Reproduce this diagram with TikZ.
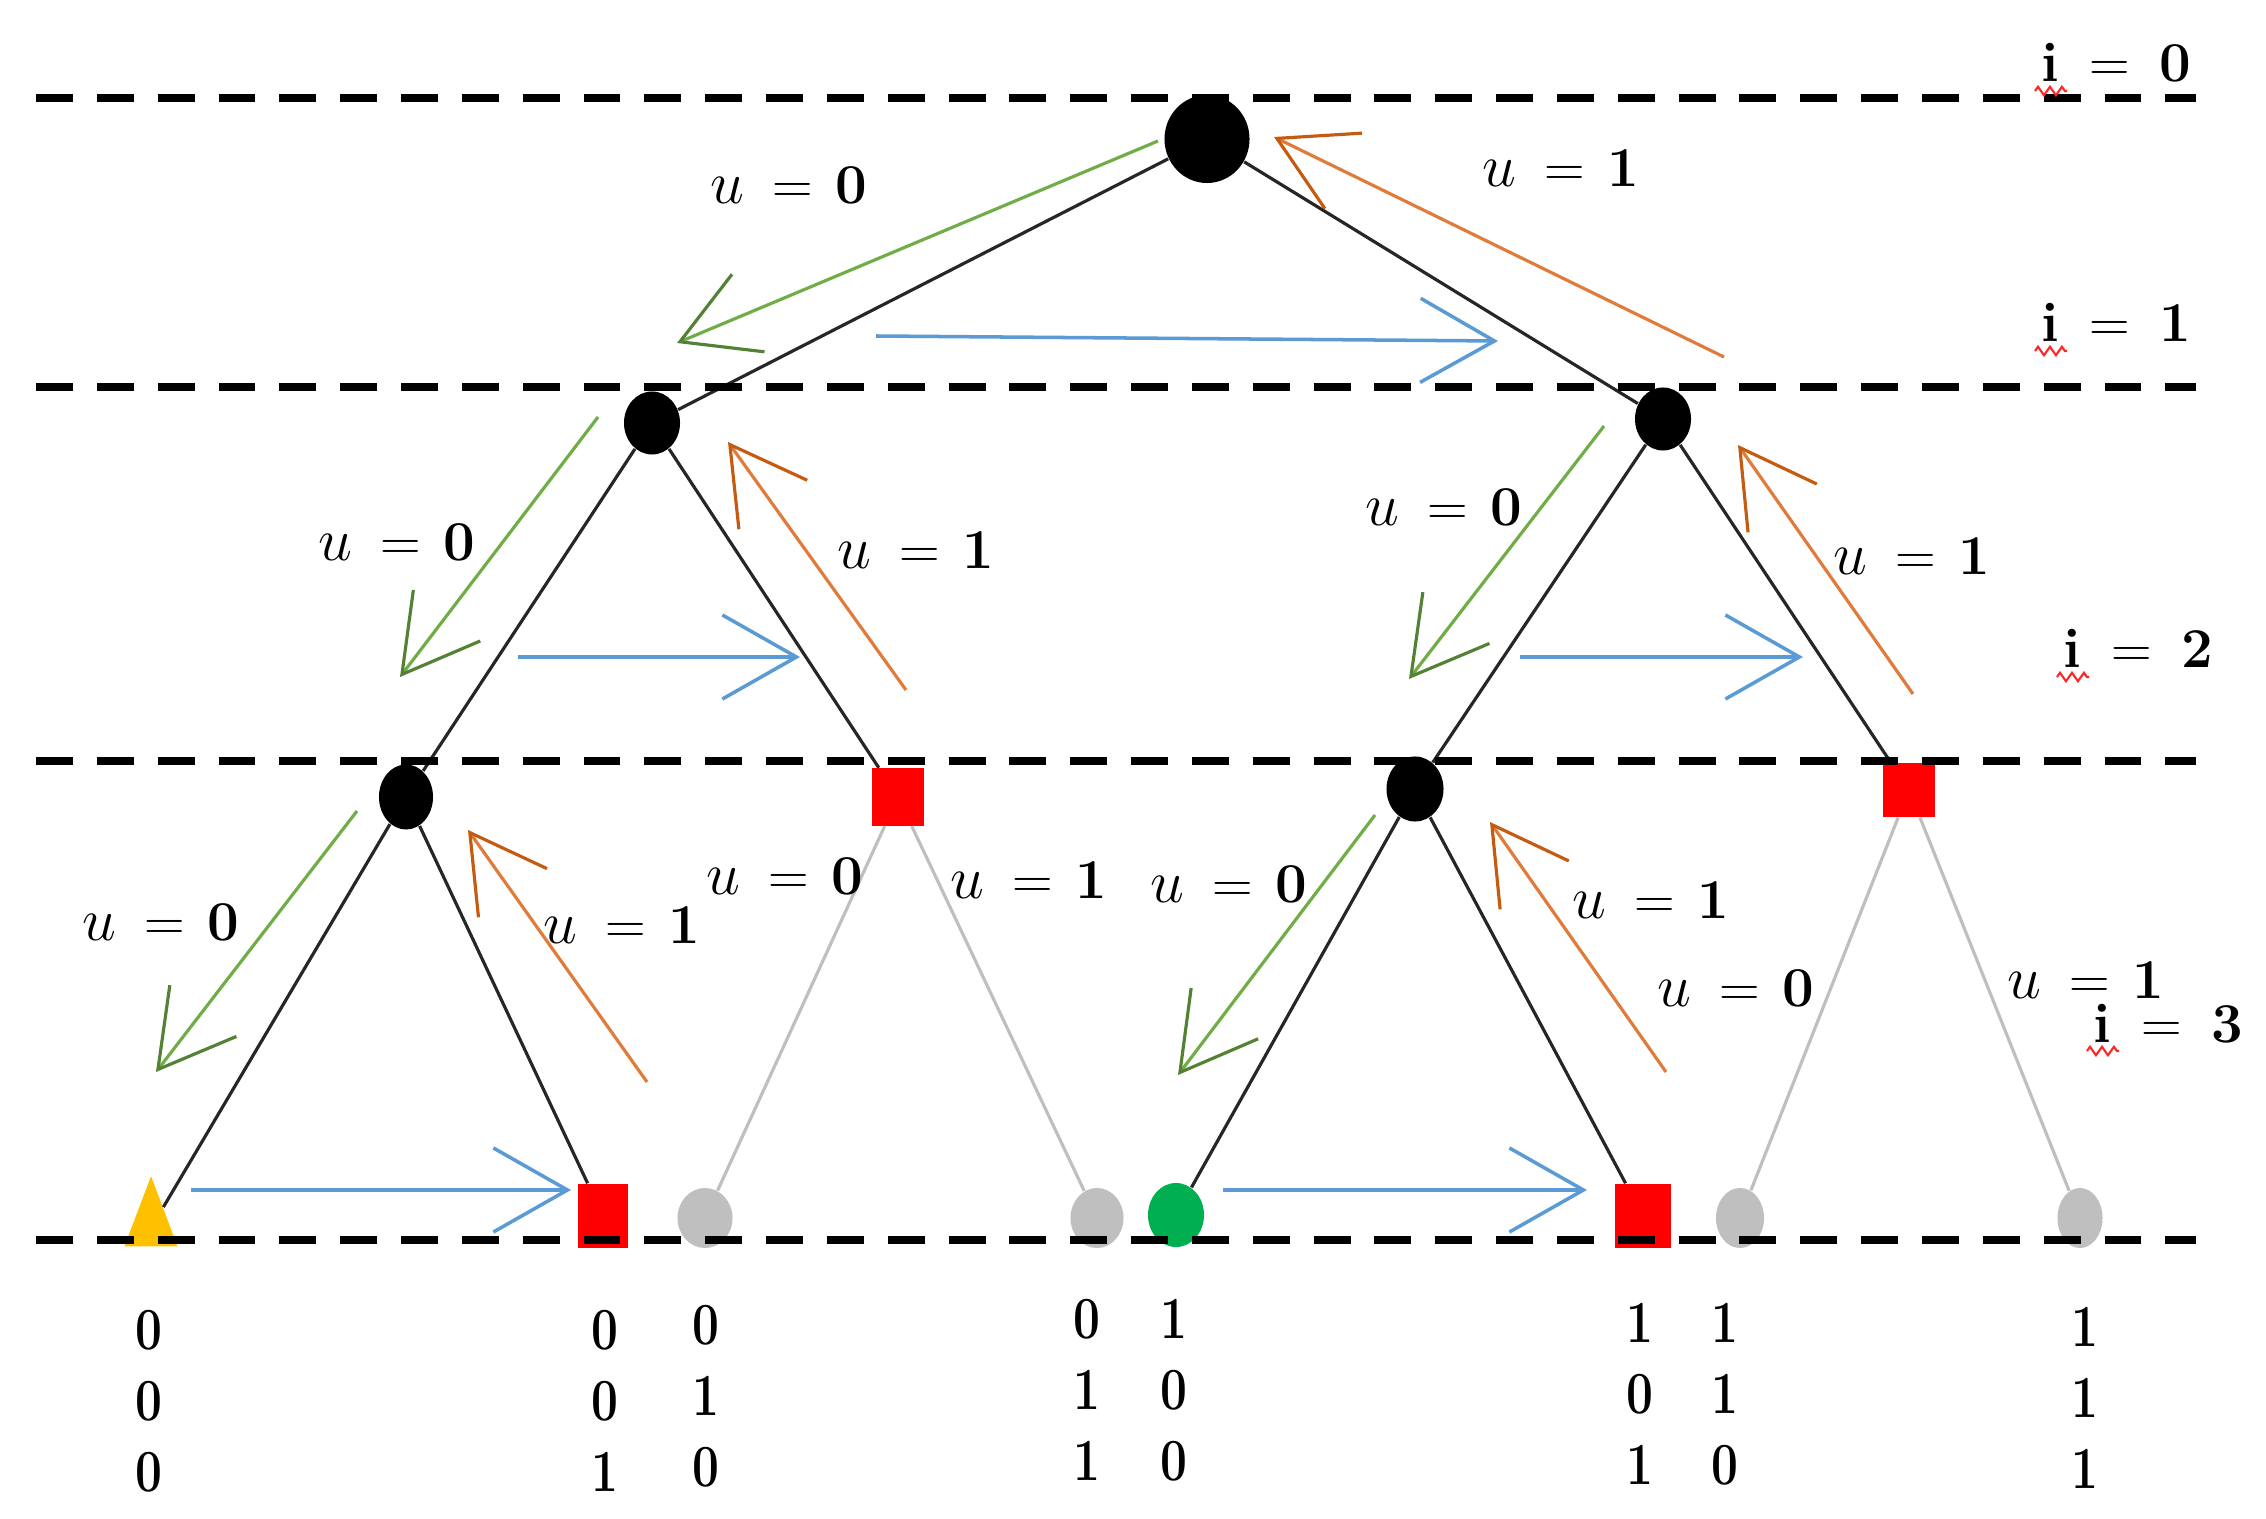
\documentclass[tikz,border=0pt]{standalone}
\usepackage{graphicx}
\usetikzlibrary{arrows.meta,shapes.geometric,decorations.pathmorphing,calc}
\definecolor{gold}{HTML}{FFC000}
\definecolor{gshaft}{HTML}{70AD47}
\definecolor{ghead}{HTML}{548235}
\definecolor{oshaft}{HTML}{E07B39}
\definecolor{ohead}{HTML}{C55A11}
\definecolor{bline}{HTML}{5B9BD5}
\definecolor{lgray}{HTML}{BFBFBF}
\definecolor{dgreen}{HTML}{00B050}
\newcommand\ulab[1]{$u$\hspace{0.28cm}=\hspace{0.22cm}\textbf{#1}}
\newcommand\ilab[1]{\textbf{i}\hspace{0.3cm}=\hspace{0.3cm}\textbf{#1}}
\newcommand\cdig[1]{\scalebox{0.8}[1]{\textbf{#1}}}
\newcommand\bcol[3]{\cdig{#1}\\\cdig{#2}\\\cdig{#3}}
\begin{document}
\begin{tikzpicture}[x=0.01cm,y=-0.01cm,
  lvline/.style={line width=2.2pt, dash pattern=on 10.5pt off 6.8pt},
  tedge/.style={line width=0.9pt, black!85},
  gedge/.style={line width=0.9pt, lgray},
  bnode/.style={ellipse, fill=black, inner sep=0},
  rsq/.style={rectangle, fill=red, inner sep=0},
  gnode/.style={ellipse, fill=lgray, inner sep=0},
  lab/.style={font=\fontsize{16}{19}\selectfont, inner sep=0},
  dig/.style={font=\fontsize{17}{20.2}\selectfont, align=center, inner sep=0},
  garr/.style={gshaft, line width=0.9pt, -{Straight Barb[length=0.74cm,width=0.84cm,color=ghead]}},
  oarr/.style={oshaft, line width=0.9pt, -{Straight Barb[length=0.74cm,width=0.84cm,color=ohead]}},
  barr/.style={bline, line width=1pt, -{Straight Barb[length=0.74cm,width=0.84cm]}},
  squig/.style={red!85, line width=0.6pt, decorate, decoration={zigzag, amplitude=1.2pt, segment length=3.4pt}}
]
\fill[white] (0,0) rectangle (2266,1519);
\useasboundingbox (0,0) rectangle (2266,1519);

% tree nodes
\node[bnode, minimum width=0.85cm, minimum height=0.88cm] (r) at (1207,139) {};
\node[bnode, minimum width=0.56cm, minimum height=0.63cm] (a) at (652,423) {};
\node[bnode, minimum width=0.56cm, minimum height=0.63cm] (b) at (1663,419) {};
\node[bnode, minimum width=0.54cm, minimum height=0.65cm] (aa) at (406,797) {};
\node[rsq, minimum width=0.52cm, minimum height=0.57cm] (ab) at (898,797) {};
\node[bnode, minimum width=0.57cm, minimum height=0.65cm] (ba) at (1415,789) {};
\node[rsq, minimum width=0.52cm, minimum height=0.54cm] (bb) at (1909,790) {};

% leaves
\node[isosceles triangle, isosceles triangle stretches, shape border rotate=90, fill=gold, inner sep=0,
      minimum width=0.53cm, minimum height=0.70cm, anchor=lower side] (l0) at (151,1247) {};
\node[rsq, minimum width=0.49cm, minimum height=0.64cm] (l1) at (603,1216) {};
\node[gnode, minimum width=0.55cm, minimum height=0.60cm] (l2) at (705,1218) {};
\node[gnode, minimum width=0.53cm, minimum height=0.60cm] (l3) at (1097,1218) {};
\node[ellipse, fill=dgreen, inner sep=0, minimum width=0.56cm, minimum height=0.64cm] (l4) at (1176,1215) {};
\node[rsq, minimum width=0.56cm, minimum height=0.64cm] (l5) at (1643,1216) {};
\node[gnode, minimum width=0.48cm, minimum height=0.60cm] (l6) at (1740,1218) {};
\node[gnode, minimum width=0.45cm, minimum height=0.60cm] (l7) at (2080,1218) {};

% tree edges
\draw[tedge] (r) -- (a);
\draw[tedge] (r) -- (b);
\draw[tedge] (a) -- (aa);
\draw[tedge] (a) -- (ab);
\draw[tedge] (b) -- (ba);
\draw[tedge] (b) -- (bb);
\draw[tedge] (aa) -- (l0);
\draw[tedge] (aa) -- (l1);
\draw[gedge] (ab) -- (l2);
\draw[gedge] (ab) -- (l3);
\draw[tedge] (ba) -- (l4);
\draw[tedge] (ba) -- (l5);
\draw[gedge] (bb) -- (l6);
\draw[gedge] (bb) -- (l7);

% arrow end points
\coordinate (g1s) at (1158,141); \coordinate (g1e) at (677,343);
\coordinate (g2s) at (598,417);  \coordinate (g2e) at (400,677);
\coordinate (g3s) at (357,811);  \coordinate (g3e) at (156,1072);
\coordinate (g4s) at (1604,426); \coordinate (g4e) at (1409,679);
\coordinate (g5s) at (1375,815); \coordinate (g5e) at (1178,1075);
\coordinate (o1s) at (1724,357); \coordinate (o1e) at (1274,137);
\coordinate (o2s) at (906,690);  \coordinate (o2e) at (728,442);
\coordinate (o3s) at (647,1082); \coordinate (o3e) at (468,830);
\coordinate (o4s) at (1913,694); \coordinate (o4e) at (1738,445);
\coordinate (o5s) at (1666,1072);\coordinate (o5e) at (1490,822);
\coordinate (b1s) at (876,336);  \coordinate (b1e) at (1498,341);
\coordinate (b2s) at (518,657);  \coordinate (b2e) at (800,657);
\coordinate (b3s) at (1520,657); \coordinate (b3e) at (1803,657);
\coordinate (b4s) at (191,1190); \coordinate (b4e) at (571,1190);
\coordinate (b5s) at (1223,1190);\coordinate (b5e) at (1587,1190);

\draw[garr] (g1s) -- (g1e);
\draw[garr] (g2s) -- (g2e);
\draw[garr] (g3s) -- (g3e);
\draw[garr] (g4s) -- (g4e);
\draw[garr] (g5s) -- (g5e);
\draw[oarr] (o1s) -- (o1e);
\draw[oarr] (o2s) -- (o2e);
\draw[oarr] (o3s) -- (o3e);
\draw[oarr] (o4s) -- (o4e);
\draw[oarr] (o5s) -- (o5e);
\draw[barr] (b1s) -- (b1e);
\draw[barr] (b2s) -- (b2e);
\draw[barr] (b3s) -- (b3e);
\draw[barr] (b4s) -- (b4e);
\draw[barr] (b5s) -- (b5e);

% level lines
\coordinate (h0a) at (36,98);   \coordinate (h0b) at (2196,98);
\coordinate (h1a) at (36,387);  \coordinate (h1b) at (2196,387);
\coordinate (h2a) at (36,761);  \coordinate (h2b) at (2196,761);
\coordinate (h3a) at (36,1240); \coordinate (h3b) at (2196,1240);
\draw[lvline] (h0a) -- (h0b);
\draw[lvline] (h1a) -- (h1b);
\draw[lvline] (h2a) -- (h2b);
\draw[lvline] (h3a) -- (h3b);

% u labels
\node[lab] (u1)  at (789,185)  {\ulab0};
\node[lab] (u2)  at (1561,168) {\ulab1};
\node[lab] (u3)  at (397,542)  {\ulab0};
\node[lab] (u4)  at (916,550)  {\ulab1};
\node[lab] (u5)  at (1444,507) {\ulab0};
\node[lab] (u6)  at (1912,556) {\ulab1};
\node[lab] (u7)  at (161,922)  {\ulab0};
\node[lab] (u8)  at (622,925)  {\ulab1};
\node[lab] (u9)  at (785,876)  {\ulab0};
\node[lab] (u10) at (1029,880) {\ulab1};
\node[lab] (u11) at (1229,884) {\ulab0};
\node[lab] (u12) at (1651,900) {\ulab1};
\node[lab] (u13) at (1736,988) {\ulab0};
\node[lab] (u14) at (2086,980) {\ulab1};

% i labels
\node[lab, anchor=base west] (i0) at (2041,82)   {\ilab0};
\node[lab, anchor=base west] (i1) at (2041,342)  {\ilab1};
\node[lab, anchor=base west] (i2) at (2063,668)  {\ilab2};
\node[lab, anchor=base west] (i3) at (2093,1042) {\ilab3};
\foreach \n in {i0,i1,i2,i3}{
  \draw[squig] ($(\n.base west)+(-6,9)$) -- ($(\n.base west)+(26,9)$);
}

% leaf codes
\node[dig] (cA) at (149,1401)  {\bcol000};
\node[dig] (cB) at (605,1401)  {\bcol001};
\node[dig] (cC) at (706,1396)  {\bcol010};
\node[dig] (cD) at (1087,1390) {\bcol011};
\node[dig] (cE) at (1174,1390) {\bcol100};
\node[dig] (cF) at (1640,1394) {\bcol101};
\node[dig] (cG) at (1725,1394) {\bcol110};
\node[dig] (cH) at (2085,1398) {\bcol111};
\end{tikzpicture}
\end{document}
